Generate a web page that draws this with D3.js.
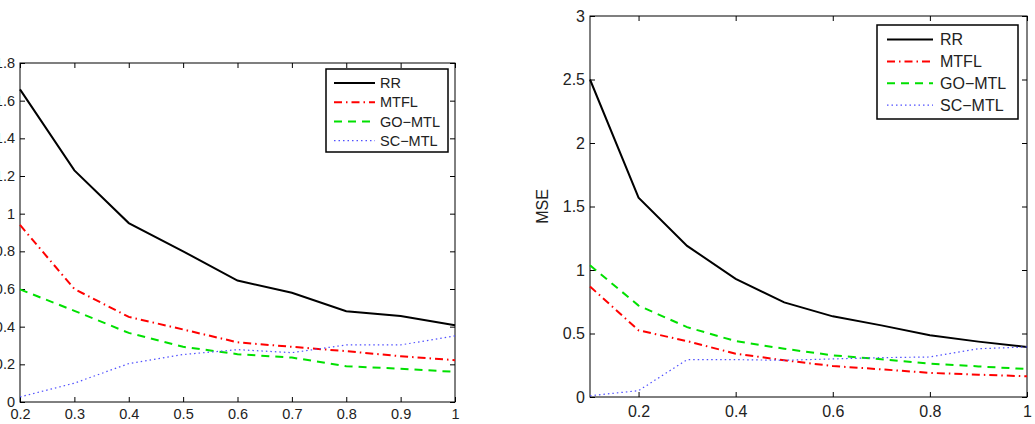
<!DOCTYPE html>
<html>
<head>
<meta charset="utf-8">
<script src="https://cdn.jsdelivr.net/npm/d3@7"></script>
<style>
  body { margin: 0; background: #fff; }
  svg { display: block; font-family: "Liberation Sans", Arial, sans-serif; }
</style>
</head>
<body>
<svg id="chart" width="1035" height="424"></svg>
<script>
// ---- data ----
const seriesNames = ["RR", "MTFL", "GO\u2212MTL", "SC\u2212MTL"];

const leftX = [0.2, 0.3, 0.4, 0.5, 0.6, 0.7, 0.8, 0.9, 1.0];
const leftRR   = [1.66, 1.23, 0.95, 0.80, 0.645, 0.58, 0.482, 0.457, 0.408];
const leftMTFL = [0.94, 0.60, 0.452, 0.385, 0.317, 0.293, 0.27, 0.243, 0.222];
const leftGO   = [0.598, 0.484, 0.367, 0.293, 0.254, 0.236, 0.19, 0.177, 0.16];
const leftSC   = [0.027, 0.10, 0.204, 0.252, 0.278, 0.262, 0.303, 0.303, 0.351];
const leftXTicks = [0.2, 0.3, 0.4, 0.5, 0.6, 0.7, 0.8, 0.9, 1];
const leftYTicks = [0, 0.2, 0.4, 0.6, 0.8, 1, 1.2, 1.4, 1.6, 1.8];

const rightX = [0.1, 0.2, 0.3, 0.4, 0.5, 0.6, 0.7, 0.8, 0.9, 1.0];
const rightRR   = [2.50, 1.57, 1.19, 0.93, 0.745, 0.635, 0.564, 0.486, 0.436, 0.394];
const rightMTFL = [0.87, 0.525, 0.44, 0.341, 0.289, 0.244, 0.218, 0.19, 0.176, 0.163];
const rightGO   = [1.037, 0.72, 0.55, 0.44, 0.38, 0.328, 0.297, 0.262, 0.241, 0.22];
const rightSC   = [0.01, 0.05, 0.294, 0.294, 0.289, 0.30, 0.31, 0.315, 0.38, 0.394];
const rightXTicks = [0.2, 0.4, 0.6, 0.8, 1];
const rightYTicks = [0, 0.5, 1, 1.5, 2, 2.5, 3];

// line styles per series
const styles = [
  {color: "#000000", width: 2, dash: null},
  {color: "#ff0000", width: 2, dash: "8,4,1.5,4"},
  {color: "#00e000", width: 2, dash: "8,6"},
  {color: "#5050ff", width: 1.2, dash: "1.5,3"}
];

const svg = d3.select("#chart");

function drawPanel(cfg) {
  const g = svg.append("g");
  const x = d3.scaleLinear().domain(cfg.xDomain).range([cfg.left, cfg.right]);
  const y = d3.scaleLinear().domain(cfg.yDomain).range([cfg.bottom, cfg.top]);
  const tick = 5;

  // bottom / left axes with labels, inward ticks
  g.append("g")
    .attr("transform", `translate(0,${cfg.bottom})`)
    .call(d3.axisBottom(x).tickValues(cfg.xTicks).tickSizeInner(-tick).tickSizeOuter(0)
      .tickPadding(cfg.xpad).tickFormat(d3.format("~g")))
    .call(a => a.select(".domain").remove())
    .call(a => a.selectAll("text").attr("font-size", cfg.fs).attr("fill", "#222"));

  g.append("g")
    .attr("transform", `translate(${cfg.left},0)`)
    .call(d3.axisLeft(y).tickValues(cfg.yTicks).tickSizeInner(-tick).tickSizeOuter(0)
      .tickPadding(5).tickFormat(d3.format("~g")))
    .call(a => a.select(".domain").remove())
    .call(a => a.selectAll("text").attr("font-size", cfg.fs).attr("fill", "#222"));

  // top / right mirrored ticks
  g.append("g")
    .attr("transform", `translate(0,${cfg.top})`)
    .call(d3.axisTop(x).tickValues(cfg.xTicks).tickSizeInner(-tick).tickSizeOuter(0).tickFormat(""))
    .call(a => a.select(".domain").remove());
  g.append("g")
    .attr("transform", `translate(${cfg.right},0)`)
    .call(d3.axisRight(y).tickValues(cfg.yTicks).tickSizeInner(-tick).tickSizeOuter(0).tickFormat(""))
    .call(a => a.select(".domain").remove());

  g.append("rect")
    .attr("x", cfg.left).attr("y", cfg.top)
    .attr("width", cfg.right - cfg.left).attr("height", cfg.bottom - cfg.top)
    .attr("fill", "none").attr("stroke", "#000").attr("stroke-width", 1);

  const line = d3.line().x(d => x(d[0])).y(d => y(d[1]));
  cfg.series.forEach((vals, i) => {
    const s = styles[i];
    g.append("path")
      .datum(cfg.xs.map((v, j) => [v, vals[j]]))
      .attr("d", line)
      .attr("fill", "none")
      .attr("stroke", s.color)
      .attr("stroke-width", s.width)
      .attr("stroke-dasharray", s.dash);
  });

  if (cfg.ylabel) {
    g.append("text")
      .attr("transform", `translate(${cfg.left - 42},${(cfg.top + cfg.bottom) / 2}) rotate(-90)`)
      .attr("text-anchor", "middle")
      .attr("font-size", cfg.fs)
      .attr("fill", "#222")
      .text(cfg.ylabel);
  }

  // legend
  const L = cfg.legend;
  g.append("rect")
    .attr("x", L.x).attr("y", L.y).attr("width", L.w).attr("height", L.h)
    .attr("fill", "#fff").attr("stroke", "#000").attr("stroke-width", 1.5);
  seriesNames.forEach((name, i) => {
    const s = styles[i];
    const yy = L.row0 + i * L.step;
    g.append("line")
      .attr("x1", L.x1).attr("x2", L.x2).attr("y1", yy).attr("y2", yy)
      .attr("stroke", s.color).attr("stroke-width", s.width)
      .attr("stroke-dasharray", s.dash);
    g.append("text")
      .attr("x", L.tx).attr("y", yy).attr("dy", "0.36em")
      .attr("font-size", L.fs)
      .attr("fill", "#222")
      .text(name);
  });
}

drawPanel({
  left: 20, right: 455, top: 63, bottom: 402,
  xDomain: [0.2, 1], yDomain: [0, 1.8],
  xTicks: leftXTicks, yTicks: leftYTicks, fs: 14.5, xpad: 7,
  xs: leftX, series: [leftRR, leftMTFL, leftGO, leftSC],
  legend: {x: 326, y: 69, w: 122, h: 83, row0: 83, step: 19.2,
           x1: 334, x2: 375, tx: 380, fs: 14.5}
});

drawPanel({
  left: 590, right: 1027, top: 16, bottom: 397,
  xDomain: [0.1, 1], yDomain: [0, 3],
  xTicks: rightXTicks, yTicks: rightYTicks, fs: 16, xpad: 9, ylabel: "MSE",
  xs: rightX, series: [rightRR, rightMTFL, rightGO, rightSC],
  legend: {x: 877, y: 25, w: 141, h: 94, row0: 39.5, step: 21.9,
           x1: 887, x2: 933, tx: 940, fs: 16}
});
</script>
</body>
</html>
